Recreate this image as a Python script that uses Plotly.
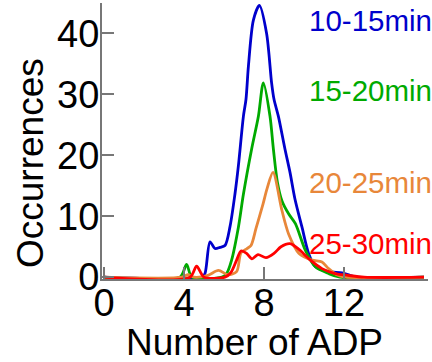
import plotly.graph_objects as go

# Read-off data (Number of ADP vs Occurrences)
blue_x = [0, 4.9, 5.05, 5.3, 5.55, 5.8, 6.05, 6.3, 6.55, 6.72, 6.97, 7.1, 7.22, 7.47, 7.77, 8.13, 8.38, 8.5, 8.72, 9.05, 9.3, 9.55, 9.9, 10.23, 10.57, 11.23, 11.9, 12.3, 12.7, 16]
blue_y = [0, 0, 0.6, 5.8, 4.7, 4.9, 5.2, 8.3, 13.7, 18.3, 26.4, 29.2, 34.6, 42.2, 44.6, 40, 31.9, 29.2, 26.4, 21, 17.2, 12.8, 8.2, 3.9, 1.7, 0.9, 0.7, 0.3, 0, 0]

green_x = [0, 3.8, 4.13, 4.4, 5.9, 6.13, 6.38, 6.72, 6.97, 7.38, 7.72, 7.97, 8.3, 8.47, 8.67, 8.9, 9.23, 9.57, 10.07, 10.57, 11.23, 11.8, 16]
green_y = [0, 0, 2.1, 0, 0, 0.6, 2.8, 8.2, 13.6, 21, 26.4, 31.9, 26.4, 21, 15.6, 12.5, 10.4, 8.8, 4.4, 1.7, 0.6, 0, 0]

orange_x = [0, 3.9, 4.2, 4.5, 5.2, 5.72, 6.2, 6.63, 6.85, 7.15, 7.35, 7.6, 7.95, 8.15, 8.45, 8.9, 9.23, 9.75, 10.4, 10.9, 11.23, 11.7, 12.1, 16]
orange_y = [0, 0, 0.4, 0, 0.3, 1.1, 0.4, 0.9, 4.0, 4.7, 5.2, 8.0, 12.0, 14.5, 17.2, 10.9, 7.1, 3.9, 2.8, 2.5, 1.4, 0.3, 0, 0]

red_x = [0, 4.3, 4.63, 5.0, 6.05, 6.35, 6.63, 6.85, 7.13, 7.4, 7.7, 8.1, 8.5, 8.85, 9.3, 9.73, 10.32, 10.9, 11.55, 12.2, 13, 16]
red_y = [0, 0, 1.8, 0, 0, 0.8, 2.8, 4.3, 3.9, 3.0, 3.7, 3.2, 3.9, 5.0, 5.5, 4.6, 2.8, 1.4, 0.6, 0.3, 0, 0]

series = [
    ("10-15min", blue_x, blue_y, "#0000CC", 21),
    ("15-20min", green_x, green_y, "#00AA00", 90),
    ("20-25min", orange_x, orange_y, "#E8873A", 182),
    ("25-30min", red_x, red_y, "#FF0000", 243),
]

x_ticks = [0, 4, 8, 12]
y_ticks = [0, 10, 20, 30, 40]

fig = go.Figure()
for name, xs, ys, col, _ in series:
    fig.add_trace(go.Scatter(x=xs, y=ys, mode="lines", name=name,
                             line=dict(color=col, width=2.8, shape="spline", smoothing=0.8)))

font_family = "Liberation Sans, Arial, sans-serif"
annotations = []
for name, xs, ys, col, ypix in series:
    annotations.append(dict(text=name, xref="paper", yref="paper",
                            x=(307 - 102) / 326, y=1 - (ypix - 3) / 276,
                            xanchor="left", yanchor="middle", showarrow=False,
                            font=dict(size=29.5, color=col, family=font_family)))
annotations.append(dict(text="Number of ADP", xref="paper", yref="paper",
                        x=(254 - 102) / 326, y=-(342 - 279) / 276, xanchor="center", yanchor="middle",
                        showarrow=False, font=dict(size=37, color="black", family=font_family)))
annotations.append(dict(text="Occurrences", xref="paper", yref="paper", textangle=-90,
                        x=-(102 - 30) / 326, y=1 - (163 - 3) / 276, xanchor="center", yanchor="middle",
                        showarrow=False, font=dict(size=37, color="black", family=font_family)))

fig.update_layout(
    width=432, height=362,
    margin=dict(l=102, r=4, t=3, b=83),
    paper_bgcolor="white", plot_bgcolor="white",
    showlegend=False,
    annotations=annotations,
    xaxis=dict(range=[-0.1, 16.2], tickvals=x_ticks, ticks="inside", ticklen=12, tickwidth=1.5,
               tickcolor="#777777", showline=True, linecolor="#777777", linewidth=2,
               showgrid=False, zeroline=False, ticklabelstandoff=-11,
               tickfont=dict(size=38, color="black", family=font_family)),
    yaxis=dict(range=[-0.3, 45], tickvals=y_ticks, ticks="inside", ticklen=12, tickwidth=1.5,
               tickcolor="#777777", showline=True, linecolor="#777777", linewidth=2,
               showgrid=False, zeroline=False, ticklabelstandoff=-7,
               tickfont=dict(size=38, color="black", family=font_family)),
)

fig.write_html("out.html", config={"displayModeBar": False},
               post_script="document.body.style.margin='0';document.body.style.overflow='hidden';")
